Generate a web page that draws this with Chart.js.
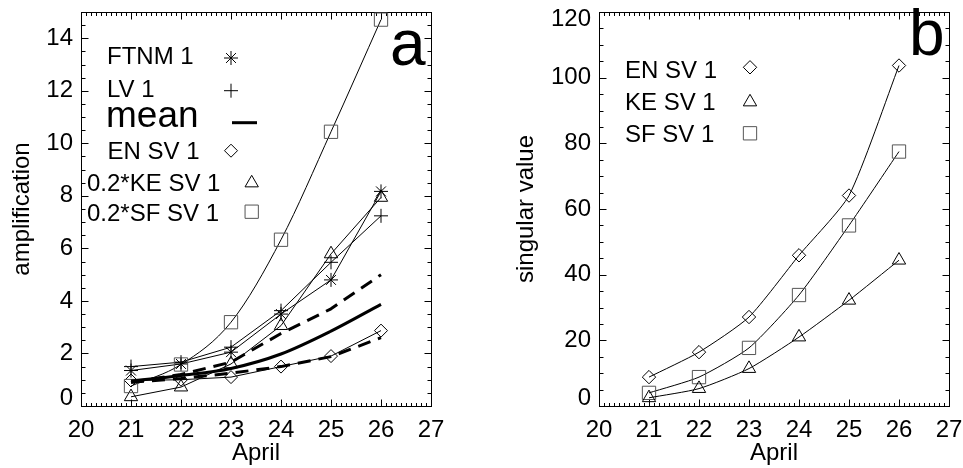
<!DOCTYPE html>
<html><head><meta charset="utf-8">
<script src="https://cdn.jsdelivr.net/npm/chart.js@4.4.0/dist/chart.umd.min.js"></script>
<style>
html,body{margin:0;padding:0;background:#fff;}
#wrap{position:relative;width:963px;height:468px;overflow:hidden;background:#fff;}
#ca{position:absolute;left:0;top:0;}
#cb{position:absolute;left:481px;top:0;}
</style></head><body>
<div id="wrap"><canvas id="ca" width="481" height="468"></canvas><canvas id="cb" width="482" height="468"></canvas></div>
<script>
// ---- data ----
const days = [21, 22, 23, 24, 25, 26];
const xTickLabels = [20, 21, 22, 23, 24, 25, 26, 27];
const ampTickLabels = [0, 2, 4, 6, 8, 10, 12, 14];
const svTickLabels = [0, 20, 40, 60, 80, 100, 120];
const ftnm1 = [1.35, 1.6, 2.05, 3.5, 4.8, 8.17];
const lv1 = [1.5, 1.67, 2.24, 3.63, 5.47, 7.24];
const meanAmp = [0.95, 1.16, 1.43, 1.98, 2.85, 3.87];
const meanUpper = [0.9, 1.2, 1.67, 2.76, 3.7, 5.0];
const meanLower = [0.9, 1.05, 1.25, 1.5, 1.88, 2.6];
const enAmp = [0.97, 1.0, 1.1, 1.5, 1.9, 2.87];
const keAmp = [0.35, 0.72, 1.6, 3.06, 5.79, 7.94];
const sfAmp = [0.76, 1.58, 3.19, 6.33, 10.44, 14.71];
const enSV = [8.8, 16.4, 27.1, 45.9, 64.1, 103.7];
const keSV = [2.5, 5.3, 11.4, 21.0, 32.2, 44.4];
const sfSV = [4.0, 8.8, 17.7, 33.8, 55.0, 77.5];
const legendA = ['FTNM 1', 'LV 1', 'mean', 'EN SV 1', '0.2*KE SV 1', '0.2*SF SV 1'];
const legendB = ['EN SV 1', 'KE SV 1', 'SF SV 1'];

const FONT = "'Liberation Sans', Arial, Helvetica, sans-serif";

function pts(arr) { return days.map((d, i) => ({x: d, y: arr[i]})); }

function sym(ctx, style, x, y, r, color, lw) {
  ctx.save();
  ctx.strokeStyle = color; ctx.lineWidth = lw || 1;
  ctx.beginPath();
  if (style === 'rect') {
    const s = r * Math.SQRT1_2; ctx.rect(x - s, y - s, 2 * s, 2 * s);
  } else if (style === 'rectRot') {
    ctx.moveTo(x, y - r); ctx.lineTo(x + r, y); ctx.lineTo(x, y + r); ctx.lineTo(x - r, y); ctx.closePath();
  } else if (style === 'triangle') {
    let a = 0;
    ctx.moveTo(x + Math.sin(a) * r, y - Math.cos(a) * r);
    a += 2 * Math.PI / 3; ctx.lineTo(x + Math.sin(a) * r, y - Math.cos(a) * r);
    a += 2 * Math.PI / 3; ctx.lineTo(x + Math.sin(a) * r, y - Math.cos(a) * r);
    ctx.closePath();
  } else if (style === 'cross' || style === 'star') {
    ctx.moveTo(x, y - r); ctx.lineTo(x, y + r); ctx.moveTo(x - r, y); ctx.lineTo(x + r, y);
    if (style === 'star') {
      const d = r * Math.SQRT1_2;
      ctx.moveTo(x - d, y - d); ctx.lineTo(x + d, y + d); ctx.moveTo(x - d, y + d); ctx.lineTo(x + d, y - d);
    }
  } else if (style === 'line') {
    ctx.lineCap = 'butt';
    ctx.moveTo(x, y); ctx.lineTo(x + r, y);
  }
  ctx.stroke();
  ctx.restore();
}

const framePlugin = {
  id: 'frame',
  beforeDatasetsDraw(chart, args, o) {
    const {ctx, chartArea: ca, scales: {x, y}} = chart;
    ctx.save();
    ctx.strokeStyle = '#000'; ctx.lineWidth = 1;
    const L = Math.round(ca.left) + 0.5, R = Math.round(ca.right) + 0.5;
    const T = Math.round(ca.top) + 0.5, B = Math.round(ca.bottom) + 0.5;
    ctx.strokeRect(L, T, R - L, B - T);
    ctx.beginPath();
    for (let k = 200; k <= 270; k++) {
      const px = Math.round(x.getPixelForValue(k / 10)) + 0.5;
      const len = (k % 10 === 0) ? 7 : 3.5;
      ctx.moveTo(px, B); ctx.lineTo(px, B - len);
      ctx.moveTo(px, T); ctx.lineTo(px, T + len);
    }
    for (let k = 0; k * o.yMinor <= o.yMax + 1e-9; k++) {
      const v = k * o.yMinor;
      const py = Math.round(y.getPixelForValue(v)) + 0.5;
      const major = Math.abs(v / o.yMajor - Math.round(v / o.yMajor)) < 1e-6;
      const len = major ? 7 : 4;
      ctx.moveTo(L, py); ctx.lineTo(L + len, py);
      ctx.moveTo(R, py); ctx.lineTo(R - len, py);
    }
    ctx.stroke();
    ctx.restore();
  },
  afterDatasetsDraw(chart, args, o) {
    const {ctx} = chart;
    ctx.save();
    ctx.fillStyle = '#000';
    ctx.textAlign = 'left'; ctx.textBaseline = 'alphabetic';
    (o.items || []).forEach(it => {
      ctx.font = (it.size || 24) + 'px ' + FONT;
      ctx.fillText(it.text, it.tx, it.ty);
      sym(ctx, it.style, it.sx, it.sy, it.r, it.color || '#000', it.lw || 1);
    });
    if (o.letter) {
      ctx.font = '64px ' + FONT;
      ctx.fillText(o.letter.text, o.letter.x, o.letter.y);
    }
    ctx.restore();
  }
};

const thin = {
  borderColor: '#000', borderWidth: 1, backgroundColor: 'rgba(0,0,0,0)',
  pointBackgroundColor: 'rgba(0,0,0,0)', pointBorderColor: '#000', pointBorderWidth: 1,
  pointHoverRadius: 0, tension: 0, clip: false, fill: false
};
const thick = {
  borderColor: '#000', borderWidth: 3, pointRadius: 0, pointHoverRadius: 0,
  tension: 0, clip: false, fill: false, borderJoinStyle: 'round'
};

function makeOptions(cfg) {
  return {
    responsive: false, animation: false, devicePixelRatio: 1,
    events: [],
    layout: {padding: {top: 12, right: cfg.padRight, left: 0, bottom: 0}},
    plugins: {
      legend: {display: false}, tooltip: {enabled: false},
      frame: cfg.frame
    },
    scales: {
      x: {
        type: 'linear', min: 20, max: 27,
        grid: {display: false, drawTicks: false}, border: {display: false},
        afterBuildTicks: s => { s.ticks = xTickLabels.map(v => ({value: v})); },
        ticks: {
          color: '#000', font: {family: FONT, size: 24}, padding: 10,
          autoSkip: false, maxRotation: 0, minRotation: 0,
          callback: v => String(v)
        },
        title: {display: true, text: 'April', color: '#000', font: {family: FONT, size: 24}, padding: {top: 0, bottom: 0}},
        afterFit: s => { s.height = 62; s.paddingLeft = 0; s.paddingRight = 0; }
      },
      y: {
        type: 'linear', min: 0, max: cfg.yMax,
        grid: {display: false, drawTicks: false}, border: {display: false},
        afterBuildTicks: s => { s.ticks = cfg.yTicks.map(v => ({value: v})); },
        ticks: {
          color: '#000', font: {family: FONT, size: 24, lineHeight: 0.61}, padding: 8,
          autoSkip: false,
          callback: v => v === 0 ? ['0', ''] : (v === cfg.yMax ? ['', String(v)] : String(v))
        },
        title: {display: true, text: cfg.yTitle, color: '#000', font: {family: FONT, size: 24}, padding: {top: cfg.titlePad, bottom: 0}},
        afterFit: s => { s.width = cfg.yWidth; s.paddingTop = 0; s.paddingBottom = 0; }
      }
    }
  };
}

// ---- panel a ----
new Chart(document.getElementById('ca'), {
  type: 'line',
  data: {datasets: [
    {...thick, data: pts(meanUpper), borderDash: [13, 8]},
    {...thick, data: pts(meanLower), borderDash: [13, 8]},
    {...thick, data: pts(meanAmp), cubicInterpolationMode: 'monotone'},
    {...thin, data: pts(sfAmp), pointStyle: 'rect', pointRadius: 9.4, pointBorderColor: '#555', cubicInterpolationMode: 'monotone'},
    {...thin, data: pts(ftnm1), pointStyle: 'star', pointRadius: 7},
    {...thin, data: pts(lv1), pointStyle: 'cross', pointRadius: 7},
    {...thin, data: pts(keAmp), pointStyle: 'triangle', pointRadius: 7.7},
    {...thin, data: pts(enAmp), pointStyle: 'rectRot', pointRadius: 6.5}
  ]},
  options: makeOptions({
    padRight: 50, yMax: 15, yTicks: ampTickLabels, yTitle: 'amplification', yWidth: 81, titlePad: 8,
    frame: {
      yMajor: 2, yMinor: 0.5, yMax: 15,
      letter: {text: 'a', x: 390, y: 65},
      items: [
        {text: legendA[0], tx: 107, ty: 64, style: 'star', sx: 231, sy: 58, r: 7},
        {text: legendA[1], tx: 107, ty: 96.7, style: 'cross', sx: 231, sy: 90.7, r: 7},
        {text: legendA[2], tx: 106, ty: 126.7, size: 37, style: 'line', sx: 232, sy: 122.7, r: 25, lw: 3},
        {text: legendA[3], tx: 107.5, ty: 159, style: 'rectRot', sx: 231, sy: 150.7, r: 6.5},
        {text: legendA[4], tx: 87, ty: 190.7, style: 'triangle', sx: 251.7, sy: 183, r: 7.7},
        {text: legendA[5], tx: 87, ty: 220.7, style: 'rect', sx: 251.7, sy: 211.7, r: 9.4, color: '#555'}
      ]
    }
  }),
  plugins: [framePlugin]
});

// ---- panel b ----
new Chart(document.getElementById('cb'), {
  type: 'line',
  data: {datasets: [
    {...thin, data: pts(enSV), pointStyle: 'rectRot', pointRadius: 6.7, tension: 0.2},
    {...thin, data: pts(keSV), pointStyle: 'triangle', pointRadius: 7.7, tension: 0.2},
    {...thin, data: pts(sfSV), pointStyle: 'rect', pointRadius: 9.4, pointBorderColor: '#555', tension: 0.2}
  ]},
  options: makeOptions({
    padRight: 14, yMax: 120, yTicks: svTickLabels, yTitle: 'singular value', yWidth: 118, titlePad: 31,
    frame: {
      yMajor: 20, yMinor: 5, yMax: 120,
      letter: {text: 'b', x: 428, y: 55},
      items: [
        {text: legendB[0], tx: 144, ty: 78.3, style: 'rectRot', sx: 269, sy: 67.3, r: 6.7},
        {text: legendB[1], tx: 144, ty: 110, style: 'triangle', sx: 269, sy: 102, r: 7.7},
        {text: legendB[2], tx: 144, ty: 141.7, style: 'rect', sx: 269, sy: 133.3, r: 9.4, color: '#555'}
      ]
    }
  }),
  plugins: [framePlugin]
});
</script>
</body></html>
